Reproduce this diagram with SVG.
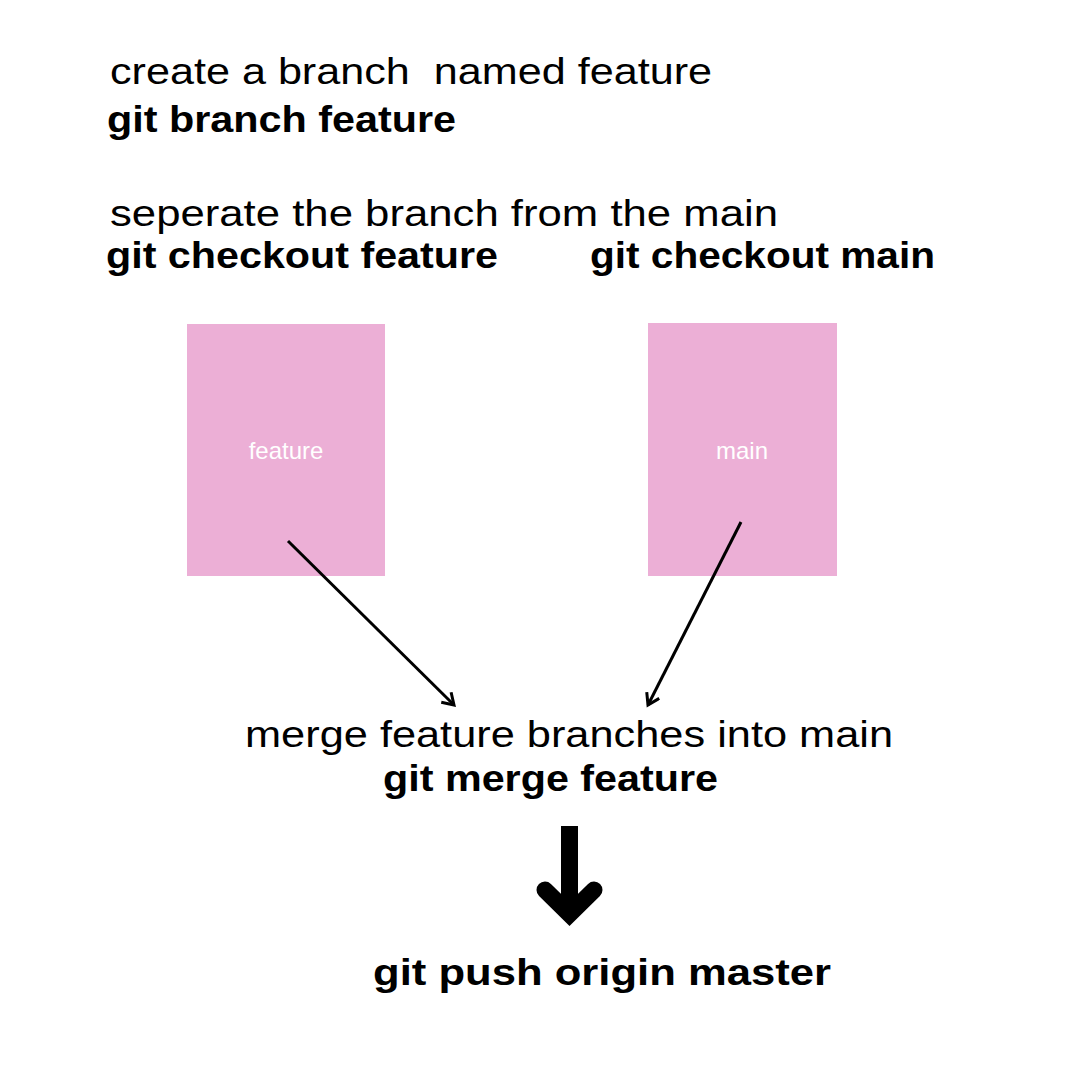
<svg xmlns="http://www.w3.org/2000/svg" width="1080" height="1080" viewBox="0 0 1080 1080">
<defs>
<style>
.t{font-family:"Liberation Sans",Arial,sans-serif;fill:#000}
.r{font-size:37px;font-weight:400}
.b{font-size:37px;font-weight:700}
.box{fill:#ecafd6}
.lbl{font-family:"Liberation Sans",Arial,sans-serif;font-size:24px;fill:#fff;text-anchor:middle}
.conn{stroke:#000;stroke-width:3;fill:none}
</style>
<marker id="ah" markerWidth="16" markerHeight="16" refX="13" refY="8" orient="auto" markerUnits="userSpaceOnUse" viewBox="0 0 16 16">
<path d="M2,1 L13,8 L2,15" fill="none" stroke="#000" stroke-width="3" stroke-linejoin="miter"/>
</marker>
</defs>
<rect width="1080" height="1080" fill="#fff"/>
<g id="text-create">
<text class="t r" x="110" y="84" textLength="602" lengthAdjust="spacingAndGlyphs" xml:space="preserve">create a branch  named feature</text>
<text class="t b" x="107" y="132" textLength="349" lengthAdjust="spacingAndGlyphs">git branch feature</text>
</g>
<g id="text-separate">
<text class="t r" x="110" y="226" textLength="668" lengthAdjust="spacingAndGlyphs">seperate the branch from the main</text>
<text class="t b" x="106" y="268" textLength="392" lengthAdjust="spacingAndGlyphs">git checkout feature</text>
<text class="t b" x="590" y="268" textLength="345" lengthAdjust="spacingAndGlyphs">git checkout main</text>
</g>
<g id="node-feature">
<rect class="box" x="187" y="324" width="198" height="252"/>
<text class="lbl" x="286" y="459">feature</text>
</g>
<g id="node-main">
<rect class="box" x="648" y="323" width="189" height="253"/>
<text class="lbl" x="742" y="459">main</text>
</g>
<g id="connectors">
<line class="conn" x1="288" y1="541" x2="454" y2="705" marker-end="url(#ah)"/>
<line class="conn" x1="741" y1="522" x2="648" y2="705" marker-end="url(#ah)"/>
<path d="M569.5,826 V912" stroke="#000" stroke-width="17" fill="none"/>
<path d="M545,890 L569.5,914 L594,890" stroke="#000" stroke-width="17" fill="none" stroke-linecap="round" stroke-linejoin="miter"/>
</g>
<g id="text-merge">
<text class="t r" x="245" y="747" textLength="648" lengthAdjust="spacingAndGlyphs">merge feature branches into main</text>
<text class="t b" x="383" y="791" textLength="335" lengthAdjust="spacingAndGlyphs">git merge feature</text>
</g>
<g id="text-push">
<text class="t b" x="373" y="985" textLength="458" lengthAdjust="spacingAndGlyphs">git push origin master</text>
</g>
</svg>
